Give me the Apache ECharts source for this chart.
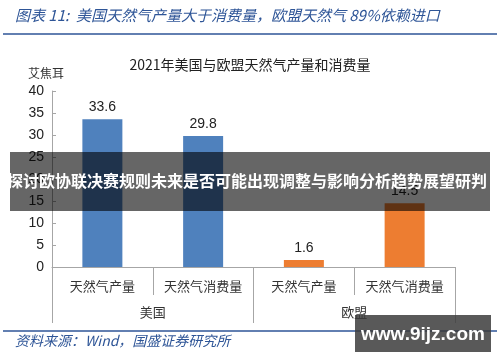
<!DOCTYPE html>
<html><head><meta charset="utf-8">
<script src="https://cdn.jsdelivr.net/npm/echarts@6/dist/echarts.min.js"></script>
<style>html,body{margin:0;padding:0;background:#fff}#c{width:500px;height:362px}</style>
</head><body><div id="c"></div>
<script>
const categories = ["天然气产量", "天然气消费量", "天然气产量", "天然气消费量"];
const regions = ["美国", "欧盟"];
const values = [33.6, 29.8, 1.6, 14.5];
const barColors = ["#4F81BD", "#4F81BD", "#ED7D31", "#ED7D31"];
const yTicks = [0, 5, 10, 15, 20, 25, 30, 35, 40];

const chart = echarts.init(document.getElementById('c'), null, {renderer: 'canvas'});
const cjk = '"Noto Sans CJK SC", sans-serif';
const axisGray = '#A6A6A6';
chart.setOption({
  animation: false,
  title: {
    text: '2021年美国与欧盟天然气产量和消费量',
    left: 'center', top: 53,
    textStyle: {fontFamily: cjk, fontSize: 14, fontWeight: 'normal', color: '#222'}
  },
  grid: {left: 52, right: 45, top: 91, bottom: 95},
  xAxis: [{
    type: 'category', data: categories, position: 'bottom',
    axisLine: {show: true, lineStyle: {color: axisGray}},
    axisTick: {show: true, length: 28, interval: 0, lineStyle: {color: axisGray}},
    axisLabel: {interval: 0, margin: 13, fontFamily: cjk, fontSize: 13, color: '#333'}
  }, {
    type: 'category', data: regions, position: 'bottom',
    axisLine: {show: false},
    axisTick: {show: true, length: 56, interval: 0, lineStyle: {color: axisGray}},
    axisLabel: {interval: 0, margin: 39, fontFamily: cjk, fontSize: 13, color: '#333'}
  }],
  yAxis: {
    type: 'value', min: yTicks[0], max: yTicks[yTicks.length - 1], interval: 5,
    name: '艾焦耳', nameLocation: 'end', nameGap: 12,
    nameTextStyle: {fontFamily: cjk, fontSize: 12, color: '#333', align: 'center', padding: [0, 12, 0, 0]},
    axisLine: {show: true, lineStyle: {color: axisGray}},
    axisTick: {show: true, inside: true, length: 4, lineStyle: {color: axisGray}},
    axisLabel: {fontFamily: 'Liberation Sans, sans-serif', fontSize: 14, color: '#222', margin: 8},
    splitLine: {show: false}
  },
  series: [{
    type: 'bar', xAxisIndex: 0, barWidth: 40,
    data: values.map((v, i) => ({value: v, itemStyle: {color: barColors[i]}})),
    label: {show: true, position: 'top', distance: 5, fontFamily: 'Liberation Sans, sans-serif', fontSize: 14, color: '#222'}
  }],
  graphic: [
    {type: 'text', left: 15, top: 8, style: {text: '图表 11:  美国天然气产量大于消费量，欧盟天然气 89%依赖进口', font: 'italic 15px "Noto Sans CJK SC"', fill: '#2E5597'}},
    {type: 'line', shape: {x1: 3, y1: 34, x2: 497, y2: 34}, style: {stroke: '#2E5597', lineWidth: 1.5}},
    {type: 'line', shape: {x1: 3, y1: 331, x2: 497, y2: 331}, style: {stroke: '#2E5597', lineWidth: 1.5}},
    {type: 'text', left: 15, top: 334, style: {text: '资料来源：Wind，国盛证券研究所', font: 'italic 14px "Noto Sans CJK SC"', fill: '#2E5597'}},
    {type: 'rect', shape: {x: 10, y: 152, width: 480, height: 59}, style: {fill: 'rgba(0,0,0,0.6)'}, z: 100},
    {type: 'text', x: 247, y: 181, style: {text: '探讨欧协联决赛规则未来是否可能出现调整与影响分析趋势展望研判', font: 'bold 16px "Noto Sans CJK SC"', fill: '#fff', align: 'center', verticalAlign: 'middle'}, z: 101},
    {type: 'rect', shape: {x: 355, y: 315, width: 136, height: 37}, style: {fill: 'rgba(60,60,60,0.85)'}, z: 100},
    {type: 'text', x: 423, y: 335, style: {text: 'www.9ijz.com', font: 'bold 19px "Liberation Sans"', fill: '#fff', align: 'center', verticalAlign: 'middle'}, z: 101}
  ]
});
</script></body></html>
